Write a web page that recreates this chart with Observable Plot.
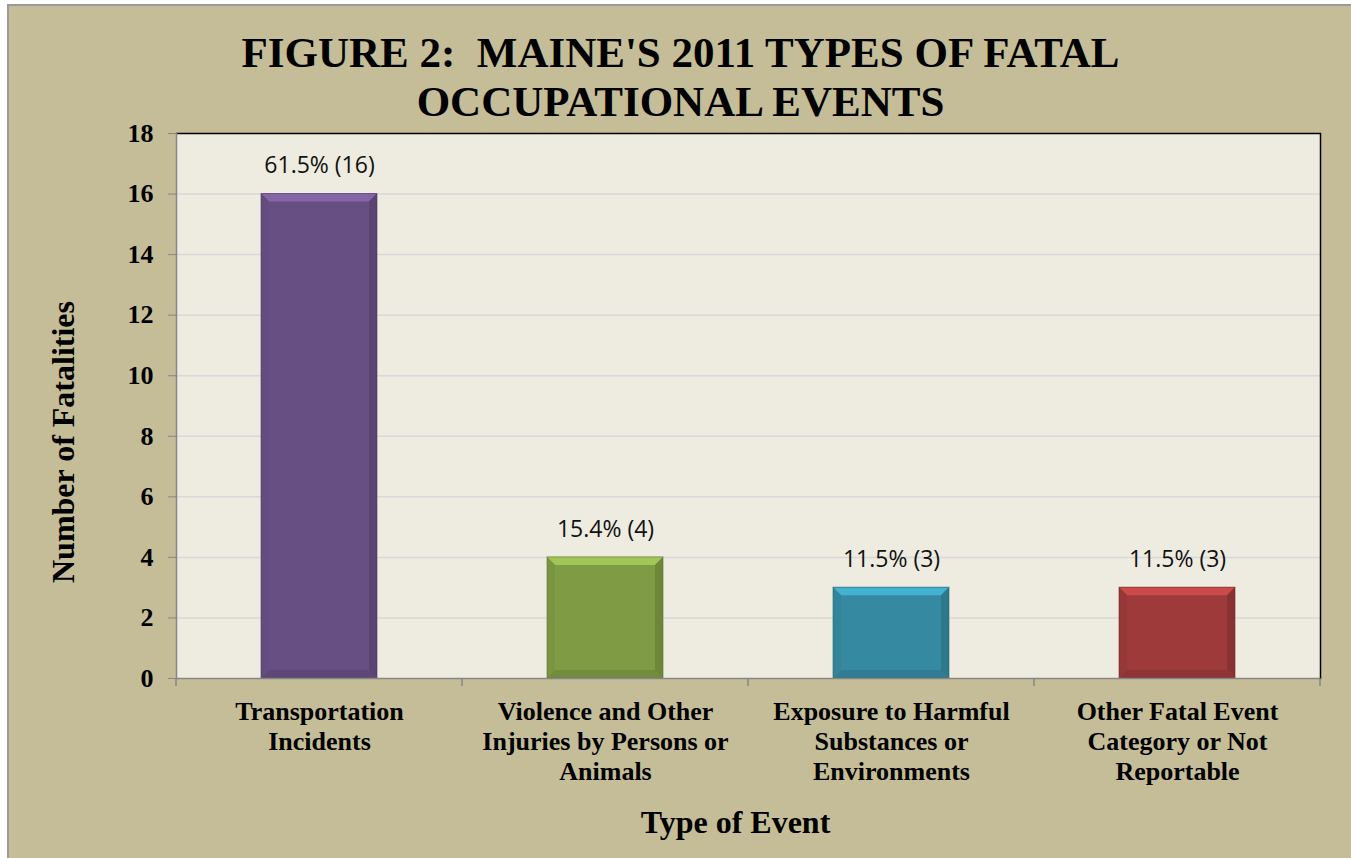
<!DOCTYPE html>
<html><head><meta charset="utf-8">
<script src="https://cdn.jsdelivr.net/npm/d3@7"></script>
<script src="https://cdn.jsdelivr.net/npm/@observablehq/plot@0.6"></script>
<style>
html,body{margin:0;padding:0;background:#fff;width:1351px;height:858px;overflow:hidden;}
#frame{position:absolute;left:7px;top:4px;width:1400px;height:900px;background:#c4bd97;border-left:2px solid #9a9a9a;border-top:2px solid #9a9a9a;}
#title{position:absolute;left:8px;top:28px;width:1345px;text-align:center;font:bold 43px/49px "Liberation Serif",serif;color:#000;}
#chart{position:absolute;left:0;top:125px;}
</style></head><body>
<div id="frame"></div>
<div id="title">FIGURE 2:&nbsp; MAINE'S 2011 TYPES OF FATAL<br>OCCUPATIONAL EVENTS</div>
<div id="chart"></div>
<script>
const categories = ["Transportation", "Violence", "Exposure", "Other"];
const categoryLabels = [
  "Transportation\nIncidents",
  "Violence and Other\nInjuries by Persons or\nAnimals",
  "Exposure to Harmful\nSubstances or\nEnvironments",
  "Other Fatal Event\nCategory or Not\nReportable"
];
const fatalities = [16, 4, 3, 3];
const shares = ["61.5%", "15.4%", "11.5%", "11.5%"];
const barColors = ["#684f83", "#7f9b43", "#358aa2", "#9e3a3a"];
const yTicks = [0, 2, 4, 6, 8, 10, 12, 14, 16, 18];
const gridTicks = [2, 4, 6, 8, 10, 12, 14, 16];
const xTitle = "Type of Event";
const yTitle = "Number of Fatalities";

const data = categories.map((c, i) => ({cat: c, label: categoryLabels[i], value: fatalities[i], share: shares[i], color: barColors[i]}));

function bandInfo(scales) {
  const x = scales.x;
  let bw, step;
  if (typeof x.bandwidth === "function") { bw = x.bandwidth(); step = x.step(); }
  else { bw = scales.scales.x.bandwidth; step = scales.scales.x.step; }
  return {x, bw, step};
}

function bevel(index, scales, values, dims) {
  const {x, bw} = bandInfo(scales);
  const y = scales.y;
  const g = d3.create("svg:g");
  const b = 8;
  for (const d of data) {
    const x0 = x(d.cat), x1 = x0 + bw, y0 = y(d.value), y1 = y(0);
    const c = d3.color(d.color);
    const poly = (pts, fill) => g.append("polygon").attr("points", pts.map(p => p.join(",")).join(" ")).attr("fill", fill);
    poly([[x0, y0], [x1, y0], [x1 - b, y0 + b], [x0 + b, y0 + b]], c.brighter(0.7).formatHex());
    poly([[x0, y1], [x1, y1], [x1 - b, y1 - b], [x0 + b, y1 - b]], c.darker(0.3).formatHex());
    poly([[x0, y0], [x0 + b, y0 + b], [x0 + b, y1 - b], [x0, y1]], c.darker(0.12).formatHex());
    poly([[x1, y0], [x1 - b, y0 + b], [x1 - b, y1 - b], [x1, y1]], c.darker(0.4).formatHex());
    g.append("rect").attr("x", x0).attr("y", y0).attr("width", bw).attr("height", y1 - y0)
      .attr("fill", "none").attr("stroke", c.darker(0.9).formatHex()).attr("stroke-width", 1).attr("stroke-opacity", 0.6);
  }
  return g.node();
}

function xBoundaryTicks(index, scales, values, dims) {
  const {x, bw, step} = bandInfo(scales);
  const dom = categories;
  const yb = dims.height - dims.marginBottom;
  const g = d3.create("svg:g").attr("stroke", "#868686").attr("stroke-width", 1.5);
  const xs = dom.map(c => x(c) - (step - bw) / 2);
  xs.push(x(dom[dom.length - 1]) + bw + (step - bw) / 2);
  for (const xv of xs) g.append("line").attr("x1", xv).attr("x2", xv).attr("y1", yb).attr("y2", yb + 8);
  return g.node();
}

const serif = "'Liberation Serif', 'Times New Roman', serif";

const chart = Plot.plot({
  width: 1351, height: 733,
  marginTop: 8, marginBottom: 180, marginLeft: 176, marginRight: 31,
  style: {background: "transparent", color: "#000", overflow: "visible"},
  x: {domain: categories, paddingInner: 0.595, paddingOuter: 0.2975, axis: null},
  y: {domain: [0, 18], axis: null},
  marks: [
    Plot.frame({fill: "#eeebe0", stroke: null}),
    Plot.ruleY(gridTicks, {stroke: "#d8d8d8", strokeWidth: 1.5}),
    Plot.barY(data, {x: "cat", y: "value", fill: d => d.color}),
    bevel,
    Plot.text(data, {x: "cat", y: "value", text: d => `${d.share} (${d.value})`, dy: -28, fontSize: 23, fontFamily: "'Open Sans', sans-serif", fill: "#111"}),
    Plot.ruleY([0], {stroke: "#868686", strokeWidth: 1.5}),
    Plot.ruleY([18], {stroke: "#000", strokeWidth: 1.5}),
    Plot.frame({anchor: "left", stroke: "#868686", strokeWidth: 1.5}),
    Plot.frame({anchor: "right", stroke: "#000", strokeWidth: 1.5}),
    Plot.axisY({ticks: yTicks, tickSize: 8, tickPadding: 15, fontSize: 26, fontWeight: "bold", fontFamily: serif, stroke: "#868686", fill: "#000", label: null}),
    xBoundaryTicks,
    Plot.text(data, {x: "cat", text: "label", frameAnchor: "bottom", dy: 20, lineAnchor: "top", lineHeight: 1.15, fontSize: 26, fontWeight: "bold", fontFamily: serif, fill: "#000"}),
    Plot.text([xTitle], {frameAnchor: "bottom", textAnchor: "middle", dx: -13, dy: 154, fontSize: 32, fontWeight: "bold", fontFamily: serif, fill: "#000"}),
    Plot.text([yTitle], {frameAnchor: "left", textAnchor: "middle", dx: -113, dy: 36, rotate: -90, fontSize: 32, fontWeight: "bold", fontFamily: serif, fill: "#000"})
  ]
});
document.getElementById("chart").appendChild(chart);
</script>
</body></html>
